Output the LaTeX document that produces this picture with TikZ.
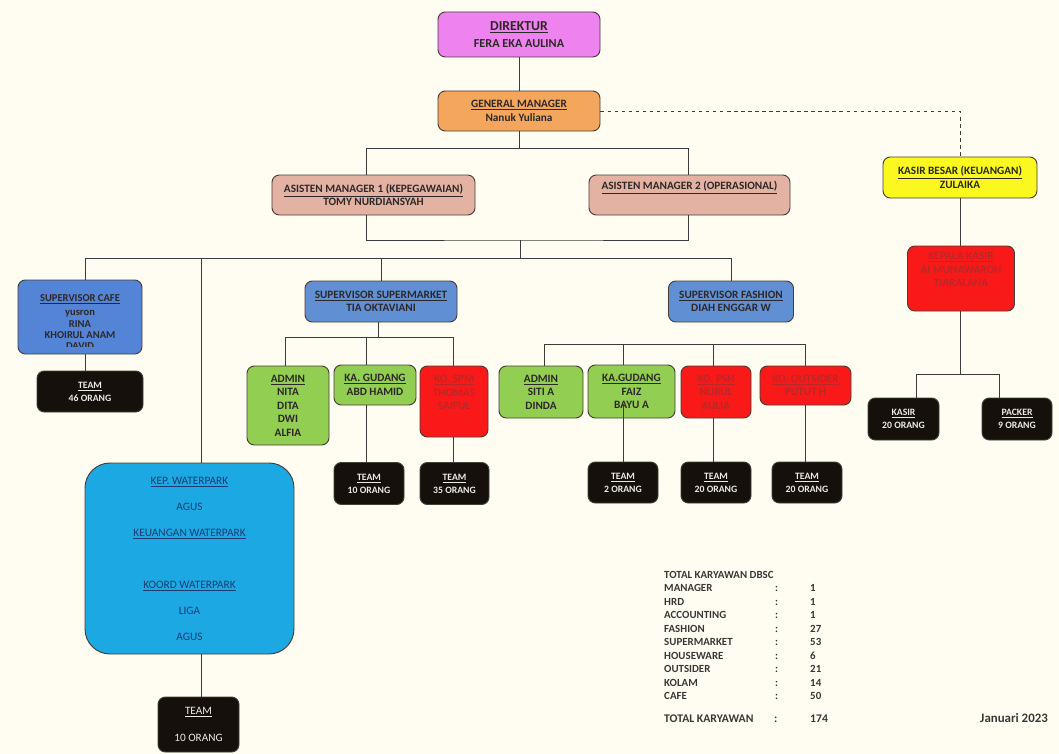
\documentclass[tikz,border=0pt]{standalone}
\usepackage{fontspec}
\setmainfont{Carlito}
\usetikzlibrary{positioning, calc}

\definecolor{bgcream}{RGB}{255,253,242}
\definecolor{edge}{RGB}{70,62,55}
\definecolor{wirec}{RGB}{60,60,60}
\definecolor{ink}{RGB}{45,40,40}
\definecolor{dirpink}{RGB}{238,130,238}
\definecolor{gmorange}{RGB}{244,166,92}
\definecolor{ampink}{RGB}{228,178,163}
\definecolor{kbyellow}{RGB}{250,248,30}
\definecolor{kored}{RGB}{250,25,25}
\definecolor{kotext}{RGB}{185,40,40}
\definecolor{supblue}{RGB}{96,143,212}
\definecolor{cafeblue}{RGB}{84,132,214}
\definecolor{grn}{RGB}{146,206,82}
\definecolor{teamblack}{RGB}{22,16,12}
\definecolor{teamtext}{RGB}{235,235,230}
\definecolor{wpcyan}{RGB}{28,168,226}
\definecolor{wpink}{RGB}{30,60,115}
\definecolor{tabink}{RGB}{60,55,55}

\begin{document}
\begin{tikzpicture}[x=0.3mm, y=-0.3mm,
    font=\bfseries\fontsize{9.6}{11.5}\selectfont,
    card/.style={draw=edge, line width=0.8pt, rounded corners=2.2mm, align=center, inner sep=0pt, text=ink},
    sz/.style 2 args={minimum width=#1*0.3mm, minimum height=#2*0.3mm},
    teambox/.style={card, fill=teamblack, text=teamtext, font=\bfseries\fontsize{8.3}{11}\selectfont},
    kobox/.style={card, fill=kored, text=kotext},
    wire/.style={draw=wirec, line width=0.8pt},
    tabtext/.style={anchor=base west, inner sep=0pt, text=tabink, font=\bfseries\fontsize{9.3}{11}\selectfont}]
    \fill[bgcream] (0,0) rectangle (1059,754);
    \useasboundingbox (0,0) rectangle (1059,754);

    % top of the chart
    \node[card, fill=dirpink, sz={162}{45}, font=\bfseries\fontsize{11.7}{14}\selectfont] (dir) at (519,34.5) {\underline{DIREKTUR}\\ {\fontsize{10.4}{14}\selectfont FERA EKA AULINA}};
    \node[card, fill=gmorange, sz={162}{40}] (gm) at (519,111) {\underline{GENERAL MANAGER}\\ Nanuk Yuliana};
    \node[card, fill=ampink, sz={203}{40}] (am1) at (373.5,195) {\underline{ASISTEN MANAGER 1 (KEPEGAWAIAN)}\\ TOMY NURDIANSYAH};
    \node[card, fill=ampink, sz={201}{40}] (am2) at (689.5,195) {\underline{ASISTEN MANAGER 2 (OPERASIONAL)}\\ \strut};
    \node[card, fill=kbyellow, sz={154}{41}] (kb) at (960,177.5) {\underline{KASIR BESAR (KEUANGAN)}\\ ZULAIKA};
    \node[kobox, sz={107}{65}] (kk) at (961,278.5) {\underline{KEPALA KASIR}\\ AI MUNAWAROH\\ TIARALANA\\ \strut};

    % cafe and waterpark
    \node[card, fill=cafeblue, sz={124}{74}, font=\bfseries\fontsize{9}{10}\selectfont] (cafe) at (80,317) {\underline{SUPERVISOR CAFE}\\[1.5pt] yusron\\ RINA\\ KHOIRUL ANAM};
    \begin{scope}
        \clip (22,330) rectangle (138,346.5);
        \node[inner sep=0pt, anchor=base, text=ink, font=\bfseries\fontsize{9}{10}\selectfont] (david) at (80,349.5) {DAVID};
    \end{scope}
    \node[teambox, sz={106}{41}] (t46) at (90,391.5) {\underline{TEAM}\\ 46 ORANG};
    \node[card, fill=wpcyan, text=wpink, sz={209}{191}, rounded corners=7.5mm, font=\mdseries\fontsize{9.7}{22.2}\selectfont] (wp) at (189.5,558.5) {\underline{KEP. WATERPARK}\\ AGUS\\ \underline{KEUANGAN WATERPARK}\\ \mbox{}\\ \underline{KOORD WATERPARK}\\ LIGA\\ AGUS};
    \node[teambox, sz={81}{55}, font=\mdseries\fontsize{9.6}{23}\selectfont] (twp) at (198.5,724.5) {\underline{TEAM}\\ 10 ORANG};

    % supermarket
    \node[card, fill=supblue, sz={152}{41}] (ssm) at (381,301.5) {\underline{SUPERVISOR SUPERMARKET}\\ TIA OKTAVIANI};
    \node[card, fill=grn, sz={82}{79}] (adm1) at (288,405.5) {\underline{ADMIN}\\ NITA\\ DITA\\ DWI\\ ALFIA};
    \node[card, fill=grn, sz={82}{40}] (kg1) at (375,385) {\underline{KA. GUDANG}\\ ABD HAMID};
    \node[kobox, sz={68}{71}] (spm) at (454,401.5) {\underline{KO. SPM}\\ THOMAS\\ SAIFUL\\ \strut};
    \node[teambox, sz={70}{42}] (t10) at (369,483.5) {\underline{TEAM}\\ 10 ORANG};
    \node[teambox, sz={69}{42}] (t35) at (454.5,483.5) {\underline{TEAM}\\ 35 ORANG};

    % fashion
    \node[card, fill=supblue, sz={125}{41}] (sfa) at (731,301.5) {\underline{SUPERVISOR FASHION}\\ DIAH ENGGAR W};
    \node[card, fill=grn, sz={84}{52}] (adm2) at (541,392) {\underline{ADMIN}\\ SITI A\\ DINDA};
    \node[card, fill=grn, sz={87}{53}] (kg2) at (631.5,391.5) {\underline{KA.GUDANG}\\ FAIZ\\ BAYU A};
    \node[kobox, sz={70}{52}] (psh) at (716,392) {\underline{KO. PSH}\\ NURUL\\ AULIA};
    \node[kobox, sz={91}{39}] (kout) at (805.5,385.5) {\underline{KO. OUTSIDER}\\ PUTUT H};
    \node[teambox, sz={70}{41}] (tf2) at (623,482.5) {\underline{TEAM}\\ 2 ORANG};
    \node[teambox, sz={70}{41}] (tpsh) at (716,482.5) {\underline{TEAM}\\ 20 ORANG};
    \node[teambox, sz={70}{41}] (tout) at (807,482.5) {\underline{TEAM}\\ 20 ORANG};

    % kasir
    \node[teambox, sz={71}{42}] (ksr) at (903.5,419) {\underline{KASIR}\\ 20 ORANG};
    \node[teambox, sz={70}{42}] (pck) at (1017,419) {\underline{PACKER}\\ 9 ORANG};

    % connectors
    \coordinate (amL) at (366,148);
    \coordinate (amR) at (688,148);
    \coordinate (amB) at (520,240);
    \coordinate (busL) at (85,258);
    \coordinate (busR) at (731,258);
    \coordinate (wpX) at (201,258);
    \coordinate (smL) at (285,337);
    \coordinate (smM) at (366,337);
    \coordinate (smR) at (453,337);
    \coordinate (smT) at (378,337);
    \coordinate (fL) at (544,344);
    \coordinate (fG) at (623,344);
    \coordinate (fP) at (713,344);
    \coordinate (fR) at (805,344);
    \coordinate (kL) at (916,374);
    \coordinate (kR) at (999,374);

    \draw[wire] (dir) -- (gm);
    \draw[wire, dashed] (gm.east) -| (kb.north);
    \draw[wire] (gm.south) -- (gm.south |- amL);
    \draw[wire] (amL |- am1.north) -- (amL) -- (amR) -- (amR |- am2.north);
    \draw[wire] (amL |- am1.south) |- (amB) -| (amR |- am2.south);
    \draw[wire] (amB) -- (amB |- busL);
    \draw[wire] (busL |- cafe.north) -- (busL) -- (busR) -- (sfa.north);
    \draw[wire] (wpX) -- (wpX |- wp.north);
    \draw[wire] (busL -| ssm.north) -- (ssm.north);
    \draw[wire] (busL |- cafe.south) -- (busL |- t46.north);
    \draw[wire] (wpX |- wp.south) -- (wpX |- twp.north);

    \draw[wire] (smT |- ssm.south) -- (smT);
    \draw[wire] (smL |- adm1.north) -- (smL) -- (smR) -- (smR |- spm.north);
    \draw[wire] (smM) -- (smM |- kg1.north);
    \draw[wire] (smM |- kg1.south) -- (smM |- t10.north);
    \draw[wire] (smR |- spm.south) -- (smR |- t35.north);

    \draw[wire] (fL |- adm2.north) -- (fL) -- (fR) -- (fR |- kout.north);
    \draw[wire] (fG) -- (fG |- kg2.north);
    \draw[wire] (fP) -- (fP |- psh.north);
    \draw[wire] ($(fG |- kg2.south)+(0,-14)$) -- (fG |- tf2.north);
    \draw[wire] (fP |- psh.south) -- (fP |- tpsh.north);
    \draw[wire] (fR |- kout.south) -- (fR |- tout.north);

    \draw[wire] (kb.south) -- (kb.south |- kk.north);
    \draw[wire] (kb.south |- kk.south) -- (kb.south |- kL);
    \draw[wire] (kL |- ksr.north) -- (kL) -- (kR) -- (kR |- pck.north);

    % staff totals
    \node[tabtext] (tothead) at (664,578) {TOTAL KARYAWAN DBSC};
    \foreach \lab/\val [count=\i] in {MANAGER/1, HRD/1, ACCOUNTING/1, FASHION/27, SUPERMARKET/53, HOUSEWARE/6, OUTSIDER/21, KOLAM/14, CAFE/50} {
        \node[tabtext] (lab\i) at (664,{578+13.55*\i}) {\lab};
        \node[tabtext] (col\i) at (775,{578+13.55*\i}) {:};
        \node[tabtext] (val\i) at (810,{578+13.55*\i}) {\val};
    }
    \node[tabtext, font=\bfseries\fontsize{10}{12}\selectfont] (totlab) at (664,722) {TOTAL KARYAWAN};
    \node[tabtext, font=\bfseries\fontsize{10}{12}\selectfont] (totcol) at (774,722) {:};
    \node[tabtext, font=\bfseries\fontsize{10}{12}\selectfont] (totval) at (810,722) {174};
    \node[tabtext, font=\bfseries\fontsize{11}{13}\selectfont] (date) at (980,722) {Januari 2023};
\end{tikzpicture}
\end{document}
